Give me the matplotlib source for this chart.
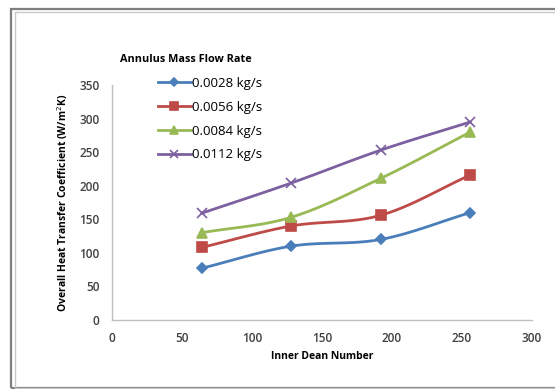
import matplotlib
matplotlib.use("Agg")
import matplotlib.pyplot as plt
from matplotlib.patches import Rectangle
import numpy as np

# Inner Dean number vs overall heat transfer coefficient
dean = [64, 128, 192, 256]
u_0028 = [77, 110, 120, 160]
u_0056 = [108, 140, 156, 216]
u_0084 = [130, 153, 211, 280]
u_0112 = [159, 204, 253, 295]
labels = ["0.0028 kg/s", "0.0056 kg/s", "0.0084 kg/s", "0.0112 kg/s"]

series = [u_0028, u_0056, u_0084, u_0112]
colors = ["#4a7ebb", "#be4b48", "#98b954", "#7d60a0"]
markers = ["D", "s", "^", "x"]
msizes = [5, 7, 7, 7]

plt.rcParams["font.family"] = ["Open Sans", "DejaVu Sans"]


def smooth(x, y, n=30):
    # Catmull-Rom curve through the points, like a spreadsheet "smoothed line"
    x = np.asarray(x, float)
    y = np.asarray(y, float)
    px = np.concatenate([[2 * x[0] - x[1]], x, [2 * x[-1] - x[-2]]])
    py = np.concatenate([[2 * y[0] - y[1]], y, [2 * y[-1] - y[-2]]])
    xs, ys = [], []
    t = np.linspace(0, 1, n)
    for i in range(1, len(px) - 2):
        for p, out in ((px, xs), (py, ys)):
            p0, p1, p2, p3 = p[i - 1], p[i], p[i + 1], p[i + 2]
            out.extend(0.5 * (2 * p1 + (-p0 + p2) * t
                              + (2 * p0 - 5 * p1 + 4 * p2 - p3) * t ** 2
                              + (-p0 + 3 * p1 - 3 * p2 + p3) * t ** 3))
    return xs, ys


fig = plt.figure(figsize=(5.55, 3.89), dpi=100)
ax = fig.add_axes([112 / 555, 1 - 320 / 389, 420 / 555, 235 / 389])

handles = []
for ys, c, m, ms, lab in zip(series, colors, markers, msizes, labels):
    sx, sy = smooth(dean, ys)
    ax.plot(sx, sy, color=c, lw=2, solid_capstyle="round")
    ax.plot(dean, ys, ls="none", marker=m, ms=ms, color=c, mec=c, mew=1.2)
    h, = ax.plot([], [], color=c, lw=2, marker=m, ms=ms - 1, mec=c, mew=1.2)
    handles.append(h)

ax.set_xlim(0, 300)
ax.set_ylim(0, 350)
ax.set_xticks(range(0, 301, 50))
ax.set_yticks(range(0, 351, 50))
ax.tick_params(length=0, labelsize=8.5, colors="#404040", pad=9)
for lab in ax.get_xticklabels() + ax.get_yticklabels():
    lab.set_fontweight("semibold")
for s in ("top", "right"):
    ax.spines[s].set_visible(False)
for s in ("left", "bottom"):
    ax.spines[s].set_color("#bfbfbf")
    ax.spines[s].set_linewidth(1)

ax.set_xlabel("Inner Dean Number", fontsize=7.5, fontweight="bold", labelpad=4)
ax.set_ylabel("Overall Heat Transfer Coefficient (W/m$^2$K)", fontsize=7.5,
              fontweight="bold", labelpad=7)

fig.text(120 / 555, 1 - 59 / 389, "Annulus Mass Flow Rate", fontsize=7.8,
         fontweight="bold", va="center", ha="left")
fig.legend(handles, labels, loc="upper left",
           bbox_to_anchor=(158 / 555, 1 - 77 / 389), frameon=False,
           fontsize=9.5, handlelength=2.5, handletextpad=0.1,
           labelspacing=0.82, borderpad=0, borderaxespad=0)

# double grey frame round the chart area
fig.patches.append(Rectangle((10.5 / 555, 1.5 / 389), 1.1, 1 - 10 / 389,
                             transform=fig.transFigure, fill=False,
                             ec="#7f7f7f", lw=1.6))
fig.patches.append(Rectangle((14.5 / 555, 1.5 / 389), 1.1, 1 - 13.5 / 389,
                             transform=fig.transFigure, fill=False,
                             ec="#c8c8c8", lw=1))

fig.savefig("out.png", dpi=100)
